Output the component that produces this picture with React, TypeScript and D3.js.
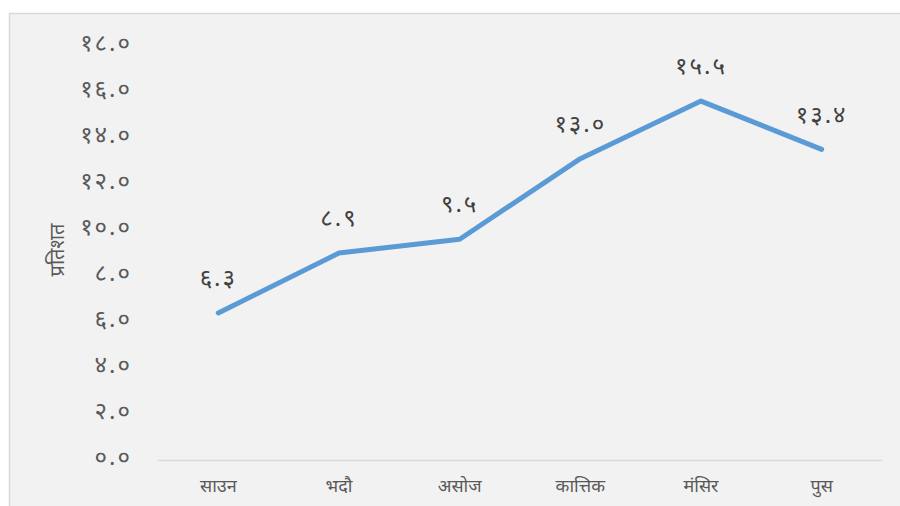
import { useEffect, useRef } from "react";
import * as d3 from "d3";

// Months (Nepali calendar) and percentage values
const months = ["साउन", "भदौ", "असोज", "कात्तिक", "मंसिर", "पुस"];
const values = [6.3, 8.9, 9.5, 13.0, 15.5, 13.4];
const valueLabels = ["६.३", "८.९", "९.५", "१३.०", "१५.५", "१३.४"];
const yTicks = [0, 2, 4, 6, 8, 10, 12, 14, 16, 18];
const yTickLabels = ["०.०", "२.०", "४.०", "६.०", "८.०", "१०.०", "१२.०", "१४.०", "१६.०", "१८.०"];
const yTitle = "प्रतिशत";

const FONT = "'Noto Sans Devanagari', 'Lohit Devanagari', 'Noto Sans', 'DejaVu Sans', sans-serif";

export default function App() {
  const svgRef = useRef<SVGSVGElement>(null);
  const width = 900;
  const height = 506;

  useEffect(() => {
    if (!svgRef.current) return;
    const svg = d3.select(svgRef.current);
    svg.selectAll("*").remove();

    // chart area background + frame
    svg.append("rect")
      .attr("x", 9.5).attr("y", 13.5)
      .attr("width", width + 20).attr("height", height + 20)
      .attr("fill", "#f2f2f2")
      .attr("stroke", "#d9d9d9").attr("stroke-width", 1.5);

    const x = d3.scaleBand<string>().domain(months).range([158, 882]);
    const y = d3.scaleLinear().domain([0, 18]).range([458, 43.5]);

    // Y tick labels (no gridlines, no axis line)
    svg.append("g")
      .selectAll("text")
      .data(yTicks)
      .join("text")
      .attr("x", 132)
      .attr("y", (d) => y(d))
      .attr("dy", "0.3em")
      .attr("text-anchor", "end")
      .attr("font-family", FONT)
      .attr("font-size", 24)
      .attr("letter-spacing", 2)
      .attr("fill", "#595959")
      .text((d, i) => yTickLabels[i]);

    // X baseline
    svg.append("line")
      .attr("x1", 158).attr("x2", 882)
      .attr("y1", 460.5).attr("y2", 460.5)
      .attr("stroke", "#d9d9d9").attr("stroke-width", 1.5);

    // X category labels
    svg.append("g")
      .selectAll("text")
      .data(months)
      .join("text")
      .attr("x", (d) => (x(d) ?? 0) + x.bandwidth() / 2)
      .attr("y", 486)
      .attr("dy", "0.35em")
      .attr("text-anchor", "middle")
      .attr("font-family", FONT)
      .attr("font-size", 18)
      .attr("fill", "#595959")
      .text((d) => d);

    // Y axis title
    svg.append("text")
      .attr("transform", "translate(57,250) rotate(-90)")
      .attr("dy", "0.35em")
      .attr("text-anchor", "middle")
      .attr("font-family", FONT)
      .attr("font-size", 20)
      .attr("fill", "#595959")
      .text(yTitle);

    // Line
    const line = d3.line<number>()
      .x((d, i) => (x(months[i]) ?? 0) + x.bandwidth() / 2)
      .y((d) => y(d));

    svg.append("path")
      .datum(values)
      .attr("d", line)
      .attr("fill", "none")
      .attr("stroke", "#5b9bd5")
      .attr("stroke-width", 5)
      .attr("stroke-linejoin", "round")
      .attr("stroke-linecap", "round");

    // Data labels
    svg.append("g")
      .selectAll("text")
      .data(values)
      .join("text")
      .attr("x", (d, i) => (x(months[i]) ?? 0) + x.bandwidth() / 2)
      .attr("y", (d) => y(d) - 34)
      .attr("dy", "0.3em")
      .attr("text-anchor", "middle")
      .attr("font-family", FONT)
      .attr("font-size", 24)
      .attr("letter-spacing", 2)
      .attr("fill", "#404040")
      .text((d, i) => valueLabels[i]);
  }, []);

  return (
    <svg
      ref={svgRef}
      width={width}
      height={height}
      style={{ position: "absolute", left: 0, top: 0, background: "#ffffff" }}
    />
  );
}
